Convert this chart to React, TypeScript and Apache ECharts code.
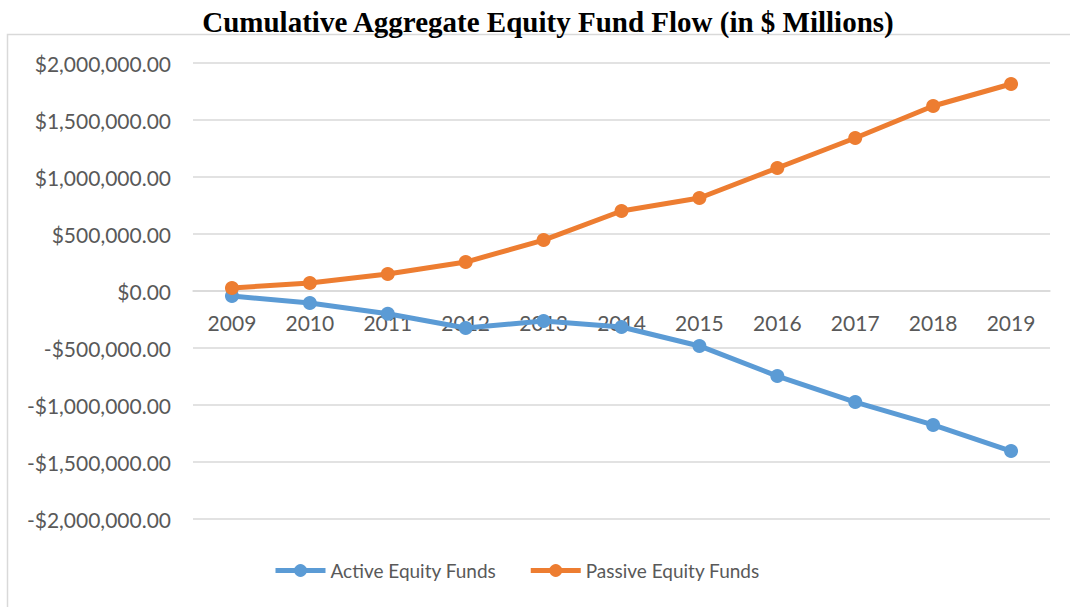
import React, { useEffect, useRef } from "react";
import * as echarts from "echarts";

const years = ["2009", "2010", "2011", "2012", "2013", "2014", "2015", "2016", "2017", "2018", "2019"];
const activeFunds = [-44000, -105000, -200000, -325000, -263000, -316000, -482000, -746000, -974000, -1175000, -1404000];
const passiveFunds = [26000, 70000, 149000, 254000, 447000, 702000, 816000, 1079000, 1342000, 1623000, 1816000];
const seriesNames = ["Active Equity Funds", "Passive Equity Funds"];
const titleText = "Cumulative Aggregate Equity Fund Flow (in $ Millions)";

const fmt = (v: number) => {
  const s = Math.abs(v).toLocaleString("en-US", { minimumFractionDigits: 2, maximumFractionDigits: 2 });
  return (v < 0 ? "-$" : "$") + s;
};

export default function App() {
  const ref = useRef<HTMLDivElement>(null);
  useEffect(() => {
    if (!ref.current) return;
    const chart = echarts.init(ref.current, undefined, { renderer: "svg" });
    const font = "Lato";
    chart.setOption({
      animation: false,
      backgroundColor: "#ffffff",
      graphic: [
        {
          type: "rect",
          shape: { x: 7.5, y: 34.5, width: 1200, height: 700 },
          style: { fill: "none", stroke: "#d9d9d9", lineWidth: 1.5 },
          z: -1,
        },
      ],
      title: {
        text: titleText,
        left: 543,
        textAlign: "center",
        top: 2,
        textStyle: {
          fontFamily: "Liberation Serif",
          fontWeight: "bold",
          fontSize: 29,
          color: "#000000",
        },
      },
      legend: {
        bottom: 22,
        left: 268,
        itemWidth: 50,
        itemHeight: 16,
        itemGap: 32,
        data: seriesNames,
        lineStyle: { width: 5 },
        textStyle: { fontFamily: font, fontSize: 19, color: "#595959" },
      },
      grid: { left: 193, right: 20, top: 63, bottom: 88 },
      xAxis: {
        type: "category",
        data: years,
        boundaryGap: true,
        position: "bottom",
        offset: -228,
        axisLine: { onZero: false, lineStyle: { color: "#d9d9d9", width: 1.5 } },
        axisTick: { show: false },
        axisLabel: { margin: 21, fontFamily: font, fontSize: 21, color: "#595959" },
      },
      yAxis: {
        type: "value",
        min: -2000000,
        max: 2000000,
        interval: 500000,
        axisLine: { show: false },
        axisTick: { show: false },
        splitLine: { lineStyle: { color: "#d9d9d9", width: 1.5 } },
        axisLabel: { margin: 22, fontFamily: font, fontSize: 21, color: "#595959", formatter: fmt },
      },
      series: [
        {
          name: seriesNames[0],
          type: "line",
          data: activeFunds,
          symbol: "circle",
          symbolSize: 14,
          itemStyle: { color: "#5B9BD5" },
          lineStyle: { color: "#5B9BD5", width: 5 },
        },
        {
          name: seriesNames[1],
          type: "line",
          data: passiveFunds,
          symbol: "circle",
          symbolSize: 14,
          itemStyle: { color: "#ED7D31" },
          lineStyle: { color: "#ED7D31", width: 5 },
        },
      ],
    });
    return () => chart.dispose();
  }, []);
  return (
    <div
      ref={ref}
      style={{ position: "fixed", left: 0, top: 0, width: 1070, height: 607 }}
    />
  );
}
